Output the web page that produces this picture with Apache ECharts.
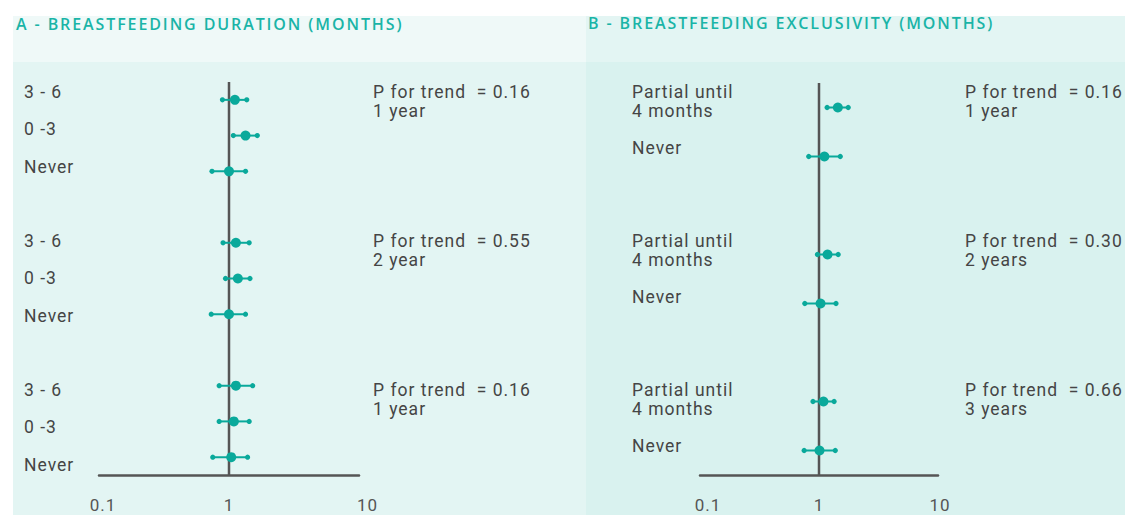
<!DOCTYPE html>
<html>
<head>
<meta charset="utf-8">
<script src="https://cdn.jsdelivr.net/npm/echarts@6/dist/echarts.min.js"></script>
<style>
  html, body { margin: 0; padding: 0; background: #fff; }
  #main { width: 1125px; height: 515px; }
  #main text { letter-spacing: 1px; }
  #main text[style*="Open Sans"], #main text[font-family*="Open Sans"] { letter-spacing: 1.9px; }
</style>
</head>
<body>
<div id="main"></div>
<script>
    // A - duration
    var durLabels = ['3 - 6', '0 -3', 'Never'];
    var durP = ['0.16', '0.55', '0.16'];
    var durYears = ['1 year', '2 year', '1 year'];
    var durOR = [1.11, 1.34, 1.0, 1.13, 1.17, 1.0, 1.13, 1.09, 1.04];
    var durLow = [0.89, 1.08, 0.74, 0.90, 0.94, 0.73, 0.84, 0.84, 0.75];
    var durHigh = [1.37, 1.65, 1.34, 1.43, 1.45, 1.34, 1.52, 1.43, 1.39];

    // B - exclusivity
    var exclLabels = ['Partial until\n4 months', 'Never'];
    var exclP = ['0.16', '0.30', '0.66'];
    var exclYears = ['1 year', '2 years', '3 years'];
    var exclOR = [1.44, 1.11, 1.18, 1.03, 1.09, 1.01];
    var exclLow = [1.17, 0.82, 0.97, 0.76, 0.89, 0.75];
    var exclHigh = [1.76, 1.51, 1.45, 1.39, 1.34, 1.37];

    var teal = '#0aa99b';
    var txt = '#454545';
    var font = 'Roboto, "Noto Sans", sans-serif';

    // rows with a gap between groups
    function buildData(or, low, high, perGroup, step) {
        var out = [];
        for (var i = 0; i < or.length; i++) {
            var g = Math.floor(i / perGroup);
            var k = i % perGroup;
            out.push([or[i], low[i], high[i], g * step + k]);
        }
        return out;
    }

    function renderCI(params, api) {
        var c = api.coord([api.value(0), api.value(3)]);
        var l = api.coord([api.value(1), api.value(3)]);
        var h = api.coord([api.value(2), api.value(3)]);
        return {
            type: 'group',
            children: [
                {type: 'line', shape: {x1: l[0], y1: l[1], x2: h[0], y2: h[1]}, style: {stroke: teal, lineWidth: 2}},
                {type: 'circle', shape: {cx: l[0], cy: l[1], r: 2.6}, style: {fill: teal}},
                {type: 'circle', shape: {cx: h[0], cy: h[1], r: 2.6}, style: {fill: teal}},
                {type: 'circle', shape: {cx: c[0], cy: c[1], r: 5}, style: {fill: teal}}
            ]
        };
    }

    function logAxis(idx, padMin, padMax) {
        return {
            gridIndex: idx, type: 'log', logBase: 10, min: 0.1, max: 10,
            axisLine: {onZero: false, lineStyle: {color: '#555', width: 2.5}},
            axisTick: {show: false},
            splitLine: {show: false},
            axisLabel: {
                color: '#555', fontSize: 17, fontFamily: font, margin: 21,
                formatter: function (v) {
                    if (v < 1) return '{lo|' + v + '}';
                    if (v > 1) return '{hi|' + v + '}';
                    return '{mid|' + v + '}';
                },
                rich: {
                    lo: {fontSize: 17, color: '#555', fontFamily: font, padding: [0, 0, 0, padMin]},
                    hi: {fontSize: 17, color: '#555', fontFamily: font, padding: [0, 0, 0, padMax]},
                    mid: {fontSize: 17, color: '#555', fontFamily: font}
                }
            }
        };
    }

    function rowAxis(idx, n) {
        return {
            gridIndex: idx, type: 'value', min: -0.5, max: n - 0.5, inverse: true, show: false
        };
    }

    function refLine(idx, n) {
        return {
            type: 'line', xAxisIndex: idx, yAxisIndex: idx, symbol: 'none', silent: true, z: 2,
            lineStyle: {color: '#555', width: 2.5},
            data: [[1, -0.5], [1, n - 0.5]]
        };
    }

    // backgrounds and texts
    var elements = [
        {type: 'rect', z: -10, shape: {x: 13, y: 16, width: 573, height: 46}, style: {fill: '#eff9f8'}},
        {type: 'rect', z: -10, shape: {x: 13, y: 62, width: 573, height: 453}, style: {fill: '#e3f5f3'}},
        {type: 'rect', z: -10, shape: {x: 586, y: 16, width: 539, height: 46}, style: {fill: '#e3f5f3'}},
        {type: 'rect', z: -10, shape: {x: 586, y: 62, width: 539, height: 453}, style: {fill: '#d9f2ef'}},
        {type: 'text', x: 16, y: 24, style: {text: 'A - BREASTFEEDING DURATION (MONTHS)', fill: '#1ab4a7',
            font: '600 16px "Open Sans", sans-serif', verticalAlign: 'middle'}},
        {type: 'text', x: 588, y: 23, style: {text: 'B - BREASTFEEDING EXCLUSIVITY (MONTHS)', fill: '#1ab4a7',
            font: '600 16px "Open Sans", sans-serif', verticalAlign: 'middle'}}
    ];
    var bodyFont = '17.5px ' + font;
    for (var g = 0; g < 3; g++) {
        for (var k = 0; k < durLabels.length; k++) {
            elements.push({type: 'text', x: 24, y: 92 + (g * 4 + k) * 37.25,
                style: {text: durLabels[k], fill: txt, font: bodyFont, verticalAlign: 'middle'}});
        }
        elements.push({type: 'text', x: 373, y: 82.5 + g * 149,
            style: {text: 'P for trend  = ' + durP[g] + '\n' + durYears[g], fill: txt, font: bodyFont,
                lineHeight: 19, verticalAlign: 'top'}});
        elements.push({type: 'text', x: 632, y: 82.5 + g * 149,
            style: {text: exclLabels[0], fill: txt, font: bodyFont, lineHeight: 19, verticalAlign: 'top'}});
        elements.push({type: 'text', x: 632, y: 148 + g * 149,
            style: {text: exclLabels[1], fill: txt, font: bodyFont, verticalAlign: 'middle'}});
        elements.push({type: 'text', x: 965, y: 82.5 + g * 149,
            style: {text: 'P for trend  = ' + exclP[g] + '\n' + exclYears[g], fill: txt, font: bodyFont,
                lineHeight: 19, verticalAlign: 'top'}});
    }

    var chart = echarts.init(document.getElementById('main'), null, {renderer: 'svg'});
    chart.setOption({
        animation: false,
        graphic: {elements: elements},
        grid: [
            {left: 99, width: 260, top: 82, height: 393},
            {left: 700, width: 238, top: 83, height: 392}
        ],
        xAxis: [logAxis(0, 8, 17), logAxis(1, 16, 4)],
        yAxis: [rowAxis(0, 11), rowAxis(1, 8)],
        series: [
            refLine(0, 11),
            refLine(1, 8),
            {
                type: 'custom', xAxisIndex: 0, yAxisIndex: 0, renderItem: renderCI,
                data: buildData(durOR, durLow, durHigh, 3, 4),
                encode: {x: 0, y: 3}, z: 3
            },
            {
                type: 'custom', xAxisIndex: 1, yAxisIndex: 1, renderItem: renderCI,
                data: buildData(exclOR, exclLow, exclHigh, 2, 3),
                encode: {x: 0, y: 3}, z: 3
            }
        ]
    });
</script>
</body>
</html>
